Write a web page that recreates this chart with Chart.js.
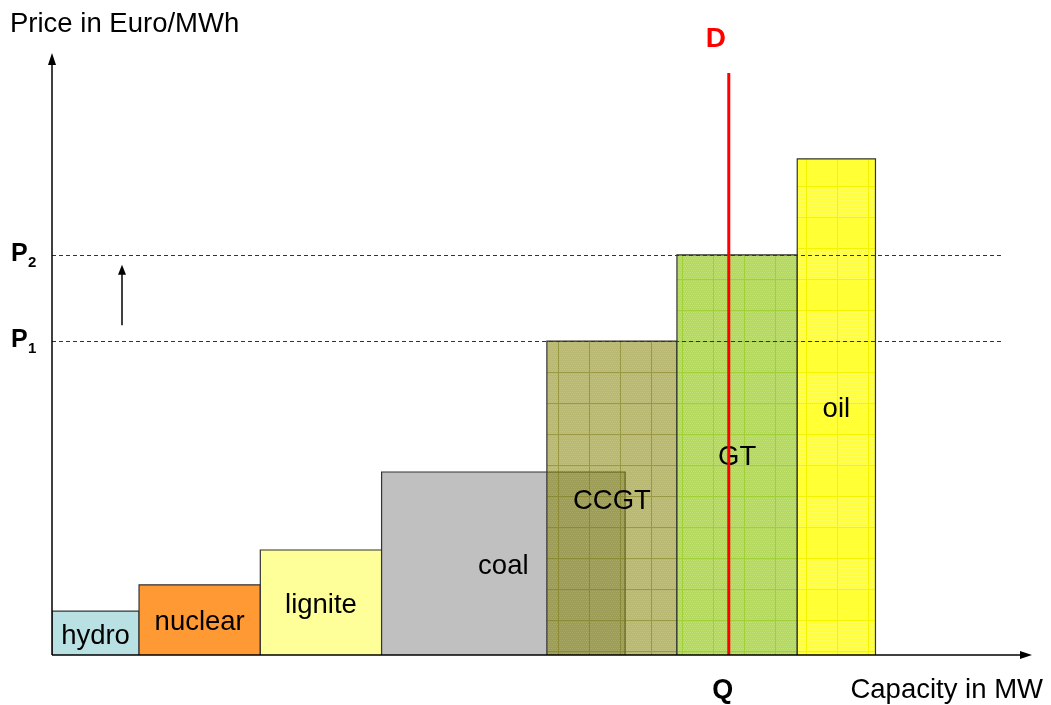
<!DOCTYPE html>
<html>
<head>
<meta charset="utf-8">
<script src="https://cdn.jsdelivr.net/npm/chart.js@4/dist/chart.umd.min.js"></script>
<style>
html,body{margin:0;padding:0;background:#fff;}
#c{display:block;}
</style>
</head>
<body>
<canvas id="c" width="1051" height="705"></canvas>
<script>
// ---- data ----
const categories = ['hydro', 'nuclear', 'lignite', 'coal', 'CCGT', 'GT', 'oil'];
const capacityStart = [0, 8.9, 21.3, 33.7, 50.6, 63.9, 76.2];
const capacityEnd   = [8.9, 21.3, 33.7, 58.6, 63.9, 76.2, 84.2];
const prices        = [7.3, 11.7, 17.5, 30.5, 52.3, 66.7, 82.7];
const priceLevels   = [52.3, 66.7];          // P1, P2
const priceLabels   = ['1', '2'];
const demandQ       = 69.2;                  // capacity at demand
const demandTop     = 97;
const axisMax       = 100;

const canvas = document.getElementById('c');
const ctx = canvas.getContext('2d');

function makePattern(base, dot, line) {
  const s = 31;
  const c = document.createElement('canvas');
  c.width = s; c.height = s;
  const g = c.getContext('2d');
  g.fillStyle = base; g.fillRect(0, 0, s, s);
  g.fillStyle = dot;
  for (let y = 0; y < s; y += 2) for (let x = (y/2)%2 ? 1 : 0; x < s; x += 2) g.fillRect(x, y, 1, 1);
  g.fillStyle = line;
  g.fillRect(0, 0, s, 1);
  g.fillRect(0, 1, 1, s - 1);
  return ctx.createPattern(c, 'repeat');
}

const fills = [
  '#b9e0e3',
  '#ff9933',
  '#ffff99',
  '#c0c0c0',
  makePattern('rgba(128,128,0,0.55)', 'rgba(255,255,220,0.12)', 'rgba(110,110,0,0.45)'),
  makePattern('#b5d95e', 'rgba(230,245,190,0.3)', '#a0cf38'),
  makePattern('#ffff33', 'rgba(255,255,190,0.35)', '#f4f400')
];

const datasets = categories.map((name, i) => ({
  label: name,
  data: [
    {x: capacityStart[i], y: 0},
    {x: capacityStart[i], y: prices[i]},
    {x: capacityEnd[i], y: prices[i]},
    {x: capacityEnd[i], y: 0}
  ],
  showLine: true,
  fill: 'origin',
  backgroundColor: fills[i],
  borderColor: '#333',
  borderWidth: 1.2,
  pointRadius: 0,
  tension: 0,
  order: categories.length - i
}));

const FONT = '"Liberation Sans", Arial, sans-serif';

const decor = {
  id: 'decor',
  afterDatasetsDraw(chart) {
    const c = chart.ctx;
    const xs = chart.scales.x, ys = chart.scales.y;
    const x0 = xs.getPixelForValue(0), y0 = ys.getPixelForValue(0);
    c.save();

    // bar labels
    c.fillStyle = '#000';
    c.font = '27.5px ' + FONT;
    c.textAlign = 'center';
    c.textBaseline = 'middle';
    categories.forEach((name, i) => {
      const cx = (xs.getPixelForValue(capacityStart[i]) + xs.getPixelForValue(capacityEnd[i])) / 2;
      const cy = (ys.getPixelForValue(prices[i]) + y0) / 2;
      c.fillText(name, cx, cy + 3);
    });

    // dashed price lines
    c.strokeStyle = '#333';
    c.lineWidth = 1;
    c.setLineDash([4, 3]);
    priceLevels.forEach(p => {
      const py = Math.round(ys.getPixelForValue(p)) + 0.5;
      c.beginPath(); c.moveTo(x0, py); c.lineTo(1003, py); c.stroke();
    });
    c.setLineDash([]);

    // demand line
    const qx = xs.getPixelForValue(demandQ);
    c.strokeStyle = '#ff0000';
    c.lineWidth = 3;
    c.beginPath(); c.moveTo(qx, ys.getPixelForValue(demandTop)); c.lineTo(qx, y0); c.stroke();

    // axes
    c.strokeStyle = '#000';
    c.fillStyle = '#000';
    c.lineWidth = 1.5;
    const xEnd = xs.getPixelForValue(axisMax);
    const yTop = ys.getPixelForValue(axisMax);
    c.beginPath(); c.moveTo(x0, y0); c.lineTo(xEnd - 8, y0); c.stroke();
    c.beginPath(); c.moveTo(xEnd + 2, y0); c.lineTo(xEnd - 10, y0 - 4); c.lineTo(xEnd - 10, y0 + 4); c.closePath(); c.fill();
    c.beginPath(); c.moveTo(x0, y0); c.lineTo(x0, yTop + 8); c.stroke();
    c.beginPath(); c.moveTo(x0, yTop - 2); c.lineTo(x0 - 4, yTop + 10); c.lineTo(x0 + 4, yTop + 10); c.closePath(); c.fill();

    // price rise arrow
    const ax = 122;
    const pa = ys.getPixelForValue(priceLevels[0]) - 16;
    const pb = ys.getPixelForValue(priceLevels[1]) + 10;
    c.lineWidth = 1.5;
    c.beginPath(); c.moveTo(ax, pa); c.lineTo(ax, pb + 8); c.stroke();
    c.beginPath(); c.moveTo(ax, pb); c.lineTo(ax - 4, pb + 10); c.lineTo(ax + 4, pb + 10); c.closePath(); c.fill();

    // P labels
    c.textAlign = 'left';
    c.textBaseline = 'alphabetic';
    priceLevels.forEach((p, i) => {
      const py = ys.getPixelForValue(p);
      c.font = 'bold 25px ' + FONT;
      c.fillText('P', 11, py + 6);
      c.font = 'bold 15px ' + FONT;
      c.fillText(priceLabels[i], 28, py + 12);
    });

    // axis titles
    c.font = '27.5px ' + FONT;
    c.fillText('Price in Euro/MWh', 10, 32);
    c.textAlign = 'right';
    c.fillText('Capacity in MW', 1043, 698);

    // Q and D
    c.textAlign = 'center';
    c.font = 'bold 27px ' + FONT;
    c.fillText('Q', qx - 6, 698);
    c.font = 'bold 28px ' + FONT;
    c.fillStyle = '#ff0000';
    c.fillText('D', qx - 13, 47);

    c.restore();
  }
};

new Chart(canvas, {
  type: 'scatter',
  data: { datasets },
  options: {
    responsive: false,
    animation: false,
    events: [],
    layout: { padding: { left: 52, right: 21, top: 55, bottom: 50 } },
    scales: {
      x: { type: 'linear', min: 0, max: axisMax, display: false },
      y: { type: 'linear', min: 0, max: axisMax, display: false }
    },
    plugins: { legend: { display: false }, tooltip: { enabled: false } }
  },
  plugins: [decor]
});
</script>
</body>
</html>
